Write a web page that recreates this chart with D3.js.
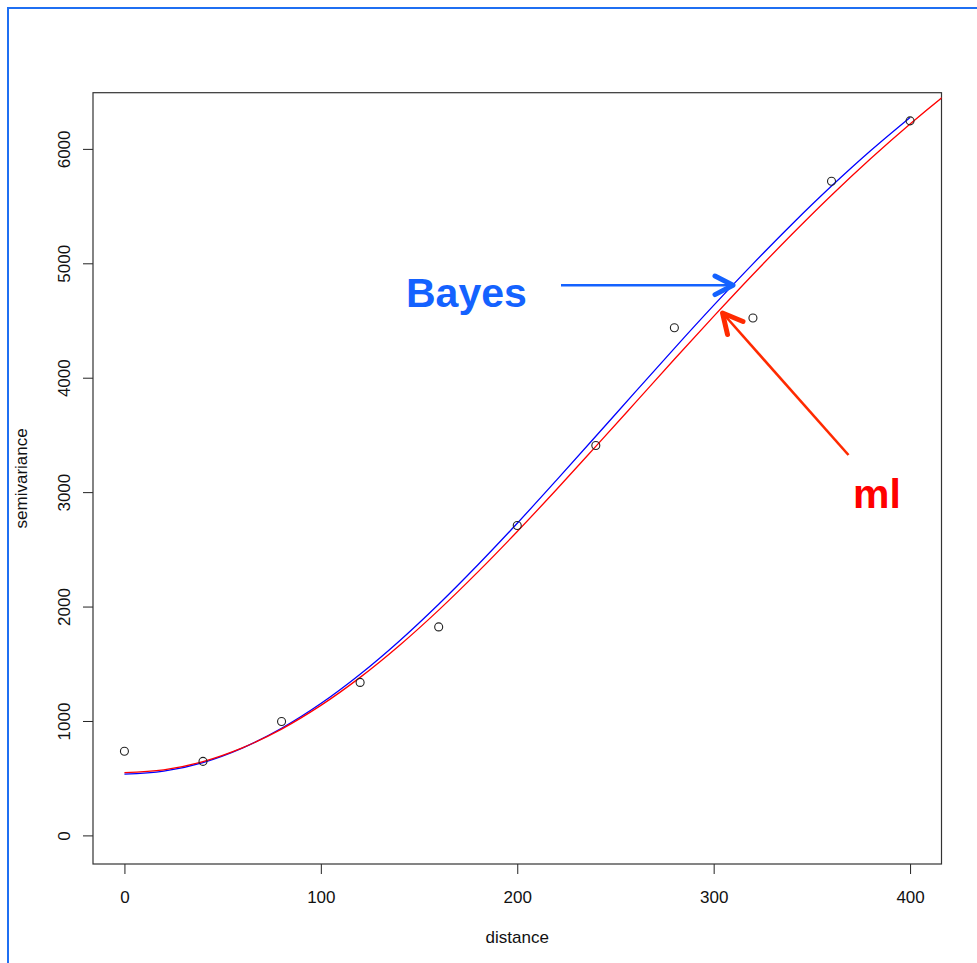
<!DOCTYPE html>
<html>
<head>
<meta charset="utf-8">
<script src="https://cdn.jsdelivr.net/npm/d3@7"></script>
<style>
  html, body { margin: 0; padding: 0; background: #fff; }
  svg { display: block; }
  text { font-family: "Liberation Sans", Arial, Helvetica, sans-serif; }
</style>
</head>
<body>
<svg id="chart" width="977" height="963"></svg>
<script>
// Empirical semivariogram (binned distance vs. semivariance)
const binDistance = [0, 40, 80, 120, 160, 200, 240, 280, 320, 360, 400];
const binSemivariance = [735, 647, 995, 1337, 1822, 2708, 3408, 4437, 4522, 5717, 6245];

// Fitted model curves, sampled along distance
const bayesDistance = [0, 20, 40, 60, 80, 100, 120, 140, 160, 180, 200, 220, 240, 260, 280, 300, 320, 340, 360, 380, 400];
const bayesValue    = [535, 561, 637, 763, 936, 1152, 1408, 1699, 2020, 2365, 2728, 3105, 3488, 3874, 4257, 4632, 4995, 5344, 5675, 5986, 6275];
const mlDistance = [0, 20, 40, 60, 80, 100, 120, 140, 160, 180, 200, 220, 240, 260, 280, 300, 320, 340, 360, 380, 400, 420];
const mlValue    = [548, 572, 645, 765, 929, 1136, 1381, 1660, 1969, 2303, 2656, 3023, 3400, 3780, 4161, 4536, 4902, 5256, 5595, 5916, 6218, 6500];

// Axis ticks and titles
const xTicks = [0, 100, 200, 300, 400];
const yTicks = [0, 1000, 2000, 3000, 4000, 5000, 6000];
const xTitle = "distance";
const yTitle = "semivariance";
const bayesLabel = "Bayes";
const mlLabel = "ml";

const svg = d3.select("#chart");

// Page frame
svg.append("path")
  .attr("d", "M8,963 L8,8 L977,8")
  .attr("fill", "none")
  .attr("stroke", "#1f6ff2")
  .attr("stroke-width", 2);

const plot = { left: 93, right: 941.5, top: 92.7, bottom: 864 };

const x = d3.scaleLinear().domain([-16, 416]).range([plot.left, plot.right]);
const y = d3.scaleLinear().domain([-250, 6491]).range([plot.bottom, plot.top]);

svg.append("defs").append("clipPath").attr("id", "plotClip")
  .append("rect")
  .attr("x", plot.left).attr("y", plot.top)
  .attr("width", plot.right - plot.left).attr("height", plot.bottom - plot.top);

// Axes
const xAxis = svg.append("g")
  .attr("transform", `translate(0,${plot.bottom})`)
  .call(d3.axisBottom(x).tickValues(xTicks).tickSize(10).tickSizeOuter(0).tickPadding(17).tickFormat(d3.format("d")));
xAxis.select(".domain").remove();
xAxis.selectAll("line").attr("stroke", "#222");
xAxis.selectAll("text").attr("font-size", 17).attr("fill", "#111")
  .attr("font-family", "'Liberation Sans', Arial, Helvetica, sans-serif");

const yAxis = svg.append("g")
  .attr("transform", `translate(${plot.left},0)`)
  .call(d3.axisLeft(y).tickValues(yTicks).tickSize(10).tickSizeOuter(0).tickFormat(d3.format("d")));
yAxis.select(".domain").remove();
yAxis.selectAll("line").attr("stroke", "#222");
// Tick labels read vertically, as in base R graphics
yAxis.selectAll("text")
  .attr("font-size", 17).attr("fill", "#111")
  .attr("font-family", "'Liberation Sans', Arial, Helvetica, sans-serif")
  .attr("x", 0).attr("y", 0).attr("dy", null)
  .attr("text-anchor", "middle")
  .attr("transform", `translate(${69.5 - plot.left},0) rotate(-90)`);

// Plot box
svg.append("rect")
  .attr("x", plot.left).attr("y", plot.top)
  .attr("width", plot.right - plot.left).attr("height", plot.bottom - plot.top)
  .attr("fill", "none").attr("stroke", "#333").attr("stroke-width", 1.2);

// Axis titles, centred on the plot region
svg.append("text")
  .attr("x", (plot.left + plot.right) / 2).attr("y", 943)
  .attr("text-anchor", "middle").attr("font-size", 17).attr("fill", "#111")
  .text(xTitle);
svg.append("text")
  .attr("transform", `translate(27,${(plot.top + plot.bottom) / 2}) rotate(-90)`)
  .attr("text-anchor", "middle").attr("font-size", 17).attr("fill", "#111")
  .text(yTitle);

// Model curves
const line = d3.line().x(d => x(d[0])).y(d => y(d[1])).curve(d3.curveCatmullRom);
const curves = svg.append("g").attr("clip-path", "url(#plotClip)");
curves.append("path")
  .datum(d3.zip(bayesDistance, bayesValue))
  .attr("d", line).attr("fill", "none").attr("stroke", "#0000ff").attr("stroke-width", 1.3);
curves.append("path")
  .datum(d3.zip(mlDistance, mlValue))
  .attr("d", line).attr("fill", "none").attr("stroke", "#ff0000").attr("stroke-width", 1.3);

// Empirical points
svg.append("g").selectAll("circle")
  .data(d3.zip(binDistance, binSemivariance))
  .join("circle")
  .attr("cx", d => x(d[0])).attr("cy", d => y(d[1])).attr("r", 4)
  .attr("fill", "none").attr("stroke", "#222").attr("stroke-width", 1.1);

// Annotations
const bayesColor = "#1462ff";
const mlColor = "#ff2a00";

svg.append("text")
  .attr("x", 406).attr("y", 306.5)
  .attr("font-size", 41).attr("font-weight", "bold").attr("fill", bayesColor)
  .text(bayesLabel);
svg.append("line")
  .attr("x1", 561).attr("y1", 285.3).attr("x2", 732).attr("y2", 285.3)
  .attr("stroke", bayesColor).attr("stroke-width", 2.6);
svg.append("path")
  .attr("d", "M715,276 L733,285.3 L715,294.6")
  .attr("fill", "none").attr("stroke", bayesColor).attr("stroke-width", 5)
  .attr("stroke-linecap", "round").attr("stroke-linejoin", "round");

svg.append("text")
  .attr("x", 853).attr("y", 507.5)
  .attr("font-size", 41).attr("font-weight", "bold").attr("fill", "#ff0000")
  .text(mlLabel);
svg.append("line")
  .attr("x1", 848.5).attr("y1", 455).attr("x2", 723.5).attr("y2", 314)
  .attr("stroke", mlColor).attr("stroke-width", 2.6);
svg.append("path")
  .attr("d", "M743,321.5 L722.5,313 L727.5,334.5")
  .attr("fill", "none").attr("stroke", mlColor).attr("stroke-width", 5)
  .attr("stroke-linecap", "round").attr("stroke-linejoin", "round");
</script>
</body>
</html>
